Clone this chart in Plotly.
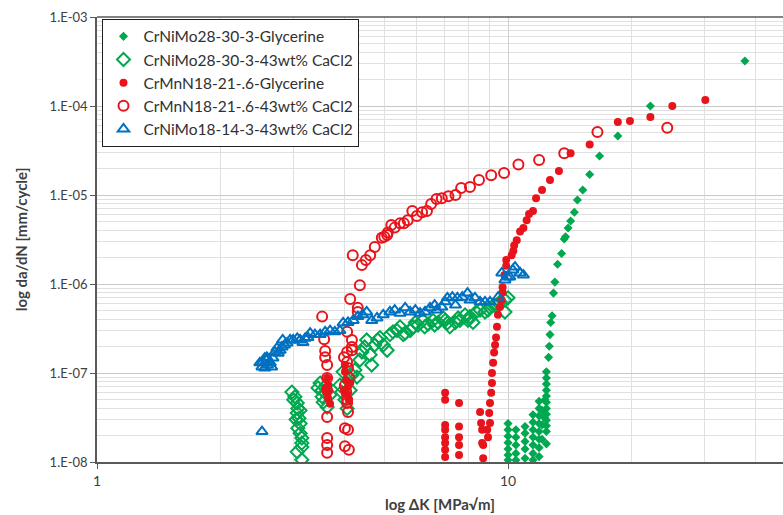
import plotly.graph_objects as go

# ---------------- data ----------------
# CrNiMo28-30-3-Glycerine (green filled diamonds)
dk_nimo28_gly = [10.0, 10.0, 10.0, 10.0, 10.0, 10.0, 10.0,
                 10.45, 10.45, 10.45, 10.45, 10.45,
                 11.0, 11.0, 11.0, 11.0, 11.0,
                 11.5, 11.5, 11.5, 11.5, 11.5, 11.5, 11.5,
                 11.9, 11.9, 11.9, 11.9, 11.9, 11.9, 11.9, 11.9,
                 12.1, 12.1, 12.1, 12.3, 12.3,
                 12.4, 12.4, 12.4, 12.4, 12.4, 12.4, 12.4, 12.4, 12.4, 12.4, 12.4, 12.4,
                 12.55, 12.6, 12.65, 12.7, 12.8, 12.9, 13.0, 13.2, 13.5, 13.7, 13.8,
                 14.0, 14.2, 14.5, 14.75, 15.2, 15.8, 16.7, 18.5, 22.2, 37.7]
dadn_nimo28_gly = [2.7e-8, 2.3e-8, 1.95e-8, 1.65e-8, 1.4e-8, 1.2e-8, 1.05e-8,
                   2.3e-8, 1.9e-8, 1.55e-8, 1.25e-8, 1.05e-8,
                   2.5e-8, 2.1e-8, 1.7e-8, 1.4e-8, 1.1e-8,
                   3.4e-8, 2.8e-8, 2.3e-8, 1.9e-8, 1.55e-8, 1.25e-8, 1.05e-8,
                   4.8e-8, 4.0e-8, 3.3e-8, 2.7e-8, 2.2e-8, 1.8e-8, 1.45e-8, 1.15e-8,
                   3.8e-8, 2.6e-8, 1.8e-8, 5.0e-8, 3.1e-8,
                   1.03e-7, 8.8e-8, 7.5e-8, 6.4e-8, 5.5e-8, 4.7e-8, 4.0e-8, 3.45e-8, 2.95e-8, 2.55e-8, 2.2e-8, 1.6e-8,
                   1.5e-7, 2.0e-7, 2.7e-7, 3.7e-7, 4.4e-7, 7.9e-7, 1.05e-6, 1.67e-6, 2.2e-6, 3.2e-6, 3.4e-6,
                   4.25e-6, 5.1e-6, 6.4e-6, 8.8e-6, 1.14e-5, 1.7e-5, 2.74e-5, 4.6e-5, 1.0e-4, 3.2e-4]

# CrNiMo28-30-3-43wt% CaCl2 (green open diamonds)
dk_nimo28_cacl = [2.98, 3.03, 3.07, 3.08, 3.07, 3.10, 3.12, 3.08, 3.12, 3.15, 3.15, 3.15, 3.07, 3.15, 3.01, 3.05, 3.12,
                  3.45, 3.49, 3.53, 3.53, 3.55, 3.63, 3.59, 3.69, 3.61,
                  3.90, 3.94, 4.01, 4.06, 4.13, 4.08, 3.97,
                  4.17, 4.24, 4.29, 4.36, 4.41, 4.48, 4.53, 4.62, 4.66, 4.74, 4.82, 4.88, 4.97, 5.08, 5.16, 5.25,
                  5.37, 5.46, 5.62, 5.78, 5.88, 6.04, 6.21, 6.39, 6.57, 6.76, 6.96, 7.12, 7.22, 7.45, 7.64, 7.86,
                  8.08, 8.22, 8.55, 8.79, 9.04, 9.25, 9.40, 9.56, 9.83, 10.0, 9.83,
                  5.56, 5.95, 6.27, 6.63, 7.03, 7.56, 7.99, 8.36, 8.94]
dadn_nimo28_cacl = [6.1e-8, 5.4e-8, 4.6e-8, 4.0e-8, 3.55e-8, 3.1e-8, 2.7e-8, 2.4e-8, 2.1e-8, 1.86e-8, 1.63e-8, 1.47e-8, 1.3e-8, 1.06e-8, 5.0e-8, 3.0e-8, 3.8e-8,
                    6.8e-8, 7.7e-8, 6.4e-8, 5.4e-8, 4.7e-8, 4.15e-8, 6.0e-8, 5.7e-8, 7.3e-8,
                    7.3e-8, 6.1e-8, 5.0e-8, 4.0e-8, 6.4e-8, 8.3e-8, 1.03e-7,
                    9.5e-8, 1.08e-7, 9.0e-8, 1.4e-7, 1.72e-7, 1.96e-7, 2.35e-7, 1.6e-7, 1.23e-7, 2.06e-7, 2.35e-7, 2.5e-7, 2.06e-7, 1.8e-7, 2.7e-7, 2.9e-7,
                    3.0e-7, 3.3e-7, 2.8e-7, 3.0e-7, 3.3e-7, 3.46e-7, 3.9e-7, 3.55e-7, 3.9e-7, 3.7e-7, 4.15e-7, 3.65e-7, 3.3e-7, 3.7e-7, 3.9e-7, 4.5e-7,
                    4.3e-7, 3.7e-7, 5.1e-7, 4.85e-7, 5.4e-7, 5.8e-7, 5.8e-7, 6.3e-7, 6.6e-7, 7.0e-7, 4.85e-7,
                    2.7e-7, 3.7e-7, 3.3e-7, 3.46e-7, 3.9e-7, 4.15e-7, 3.9e-7, 4.85e-7, 5.1e-7]

# CrMnN18-21-.6-Glycerine (red filled circles)
dk_mnn_gly = [30.2, 25.1, 22.2, 19.8, 18.5, 15.8, 14.2, 13.3, 12.65, 12.1, 11.7, 11.5, 11.25, 11.1, 10.9, 10.7,
              10.5, 10.35, 10.3, 10.2, 9.9, 9.9, 9.8, 9.7, 9.7, 9.65, 9.56, 9.45, 9.4, 9.35, 9.3, 9.25, 9.2,
              9.14, 9.14, 9.1, 9.04, 9.0, 9.04, 8.94, 8.9, 8.7, 8.7, 8.65, 8.65, 8.6, 8.55,
              7.03, 7.03, 7.03, 7.03, 7.03, 7.03, 7.03, 7.03,
              7.6, 7.6, 7.6, 7.6, 7.6,
              3.63, 3.65, 3.63, 3.65, 3.69, 3.61,
              4.01, 4.04, 4.08, 4.06, 4.1, 3.99, 4.13, 4.01]
dadn_mnn_gly = [1.17e-4, 1.0e-4, 7.5e-5, 6.8e-5, 6.6e-5, 3.7e-5, 2.95e-5, 1.86e-5, 1.47e-5, 1.14e-5, 9.2e-6, 6.6e-6, 6.1e-6, 5.2e-6, 4.25e-6, 3.9e-6,
                3.1e-6, 2.7e-6, 2.35e-6, 2.1e-6, 1.86e-6, 1.6e-6, 1.26e-6, 9.2e-7, 8.0e-7, 6.6e-7, 5.5e-7, 4.5e-7, 3.3e-7, 2.5e-7, 2.06e-7, 1.7e-7, 1.3e-7,
                1.0e-7, 7.7e-8, 6.0e-8, 4.6e-8, 3.55e-8, 2.75e-8, 1.9e-8, 2.3e-8, 1.55e-8, 1.1e-8, 1.63e-8, 2.3e-8, 2.75e-8, 3.65e-8,
                6.0e-8, 5.0e-8, 2.6e-8, 2.3e-8, 1.9e-8, 1.63e-8, 1.37e-8, 1.14e-8,
                4.6e-8, 2.5e-8, 1.9e-8, 1.55e-8, 1.2e-8,
                8.8e-8, 7.3e-8, 6.1e-8, 5.2e-8, 4.5e-8, 6.8e-8,
                1.03e-7, 8.3e-8, 7.0e-8, 5.8e-8, 5.0e-8, 6.4e-8, 7.7e-8, 1.23e-7]

# CrMnN18-21-.6-43wt% CaCl2 (red open circles)
dk_mnn_cacl = [4.19, 4.41, 4.51, 4.62, 4.74, 4.93, 5.08, 4.36, 4.13, 4.31, 4.31, 3.53, 4.06, 3.57, 3.59, 3.59, 3.63,
               4.17, 4.17, 4.17, 4.06, 3.99, 4.06, 4.08, 3.63, 4.01, 3.63, 4.06, 4.06, 4.08, 3.63, 3.63, 3.63,
               4.01, 4.08, 4.01, 4.1, 3.63, 4.04, 4.1,
               5.0, 5.1, 5.2, 5.3, 5.46, 5.58, 5.7, 5.85, 6.0, 6.18, 6.35, 6.5, 6.7, 6.9, 7.16, 7.45, 7.69,
               8.08, 8.5, 9.1, 9.78, 10.6, 11.9, 13.7, 16.5, 24.4]
dadn_mnn_cacl = [2.1e-6, 1.63e-6, 1.86e-6, 2.1e-6, 2.6e-6, 3.3e-6, 3.55e-6, 9.7e-7, 6.8e-7, 5.4e-7, 4.85e-7, 4.3e-7, 2.9e-7, 2.4e-7, 1.77e-7, 1.5e-7, 1.23e-7,
                 2.35e-7, 1.96e-7, 1.8e-7, 1.72e-7, 1.5e-7, 1.33e-7, 1.14e-7, 8.8e-8, 7.3e-8, 3.2e-8, 5.0e-8, 4.6e-8, 3.65e-8, 1.86e-8, 1.55e-8, 1.27e-8,
                 2.4e-8, 2.3e-8, 1.5e-8, 1.37e-8, 6.4e-8, 6.1e-8, 8.8e-8,
                 3.4e-6, 3.8e-6, 4.6e-6, 4.3e-6, 4.8e-6, 4.8e-6, 5.2e-6, 6.6e-6, 5.8e-6, 6.4e-6, 6.6e-6, 7.9e-6, 9.0e-6, 9.2e-6, 9.7e-6, 1.0e-5, 1.2e-5,
                 1.23e-5, 1.47e-5, 1.67e-5, 1.77e-5, 2.2e-5, 2.47e-5, 2.95e-5, 5.1e-5, 5.7e-5]

# CrNiMo18-14-3-43wt% CaCl2 (blue open triangles)
dk_nimo18_cacl = [2.52, 2.49, 2.52, 2.53, 2.56, 2.59, 2.59, 2.6, 2.64, 2.66, 2.68, 2.71, 2.74, 2.76, 2.79, 2.82, 2.83,
                  2.9, 2.95, 3.0, 3.07, 3.12, 3.17, 3.26, 3.3, 3.39, 3.49, 3.59, 3.69, 3.79, 3.9, 3.97, 4.08, 4.2,
                  4.31, 4.43, 4.53, 4.66, 4.8, 4.97, 5.16, 5.3, 5.46, 5.62, 5.78, 6.11, 6.28, 6.46, 6.63, 6.9,
                  7.12, 7.32, 7.53, 7.74, 7.97, 8.08, 8.31, 8.55, 8.79, 9.04, 9.46, 9.66, 9.83, 9.95, 10.1, 10.27,
                  10.4, 10.7, 10.9, 5.95, 7.03, 7.45, 6.7, 2.86, 3.21, 2.56]
dadn_nimo18_cacl = [2.2e-8, 1.3e-7, 1.17e-7, 1.33e-7, 1.14e-7, 1.5e-7, 1.4e-7, 1.23e-7, 1.3e-7, 1.17e-7, 1.47e-7, 1.72e-7, 1.9e-7, 1.67e-7, 1.8e-7, 1.96e-7, 2.35e-7,
                    2.17e-7, 2.35e-7, 2.35e-7, 2.45e-7, 2.35e-7, 2.2e-7, 2.5e-7, 2.8e-7, 2.7e-7, 2.7e-7, 2.9e-7, 3.0e-7, 2.9e-7, 3.0e-7, 3.65e-7, 3.7e-7, 3.9e-7,
                    4.3e-7, 4.5e-7, 4.85e-7, 3.9e-7, 4.15e-7, 4.5e-7, 4.85e-7, 5.1e-7, 4.7e-7, 5.4e-7, 4.85e-7, 4.7e-7, 4.85e-7, 5.4e-7, 5.8e-7, 5.5e-7,
                    7.0e-7, 7.1e-7, 7.0e-7, 7.1e-7, 7.9e-7, 6.6e-7, 7.0e-7, 6.3e-7, 6.3e-7, 6.3e-7, 7.1e-7, 1.33e-6, 1.11e-6, 1.2e-6, 1.2e-6, 1.44e-6,
                    1.55e-6, 1.33e-6, 1.26e-6, 5.1e-7, 6.3e-7, 5.8e-7, 5.1e-7, 2.06e-7, 2.45e-7, 1.47e-7]

y_tick_vals = [1e-8, 1e-7, 1e-6, 1e-5, 1e-4, 1e-3]
y_tick_text = ["1.E-08", "1.E-07", "1.E-06", "1.E-05", "1.E-04", "1.E-03"]
x_tick_vals = [1, 10, 100]
x_tick_text = ["1", "10", "100"]

GREEN = "#00A850"
RED = "#E8141B"
BLUE = "#0070C0"
FONT = "Lato"

fig = go.Figure()
fig.add_trace(go.Scatter(x=dk_nimo28_gly, y=dadn_nimo28_gly, mode="markers",
                         name="CrNiMo28-30-3-Glycerine",
                         marker=dict(symbol="diamond", size=7, color=GREEN)))
fig.add_trace(go.Scatter(x=dk_nimo28_cacl, y=dadn_nimo28_cacl, mode="markers",
                         name="CrNiMo28-30-3-43wt% CaCl2",
                         marker=dict(symbol="diamond-open", size=10, color=GREEN, line=dict(width=2))))
fig.add_trace(go.Scatter(x=dk_mnn_gly, y=dadn_mnn_gly, mode="markers",
                         name="CrMnN18-21-.6-Glycerine",
                         marker=dict(symbol="circle", size=8, color=RED)))
fig.add_trace(go.Scatter(x=dk_mnn_cacl, y=dadn_mnn_cacl, mode="markers",
                         name="CrMnN18-21-.6-43wt% CaCl2",
                         marker=dict(symbol="circle-open", size=10, color=RED, line=dict(width=2))))
fig.add_trace(go.Scatter(x=dk_nimo18_cacl, y=dadn_nimo18_cacl, mode="markers",
                         name="CrNiMo18-14-3-43wt% CaCl2",
                         marker=dict(symbol="triangle-up-open", size=10, color=BLUE, line=dict(width=2))))

minor_y = [m * 10.0 ** e for e in range(-8, -3) for m in range(2, 10)]
minor_x = [m * 10.0 ** e for e in range(0, 2) for m in range(2, 10)]

fig.update_layout(
    width=783, height=515,
    margin=dict(l=97, r=0, t=17, b=53),
    paper_bgcolor="white", plot_bgcolor="white",
    font=dict(family=FONT, size=13, color="#404040"),
    showlegend=True,
    legend=dict(x=0.008, y=0.996, xanchor="left", yanchor="top",
                bgcolor="white", bordercolor="#202020", borderwidth=1,
                font=dict(family=FONT, size=15.5, color="#303030"),
                tracegroupgap=0, itemsizing="trace", itemwidth=30),
    xaxis=dict(type="log", range=[0, 1.669], tickvals=x_tick_vals, ticktext=x_tick_text,
               showgrid=True, gridcolor="#D0D0D0", gridwidth=1,
               minor=dict(tickvals=minor_x, showgrid=True, gridcolor="#E0E0E0", ticks=""),
               showline=True, linecolor="#595959", linewidth=1.5,
               ticks="outside", ticklen=5, tickcolor="#595959",
               tickfont=dict(size=14, color="#404040"),
               zeroline=False,
               title=dict(text="<b>log ΔK [MPa√m]</b>", font=dict(size=15, color="#404040"), standoff=12)),
    yaxis=dict(type="log", range=[-8, -3], tickvals=y_tick_vals, ticktext=y_tick_text,
               showgrid=True, gridcolor="#C8C8C8", gridwidth=1,
               minor=dict(tickvals=minor_y, showgrid=True, gridcolor="#E0E0E0", ticks=""),
               showline=True, linecolor="#595959", linewidth=1.5,
               ticks="outside", ticklen=5, tickcolor="#595959",
               tickfont=dict(size=13, color="#404040"),
               zeroline=False,
               title=dict(text="<b>log da/dN [mm/cycle]</b>", font=dict(size=15, color="#404040"), standoff=18)),
    shapes=[dict(type="line", xref="paper", yref="paper", x0=0, x1=1, y0=1, y1=1,
                 line=dict(color="#595959", width=1.5))],
)

fig.write_html("out.html")
